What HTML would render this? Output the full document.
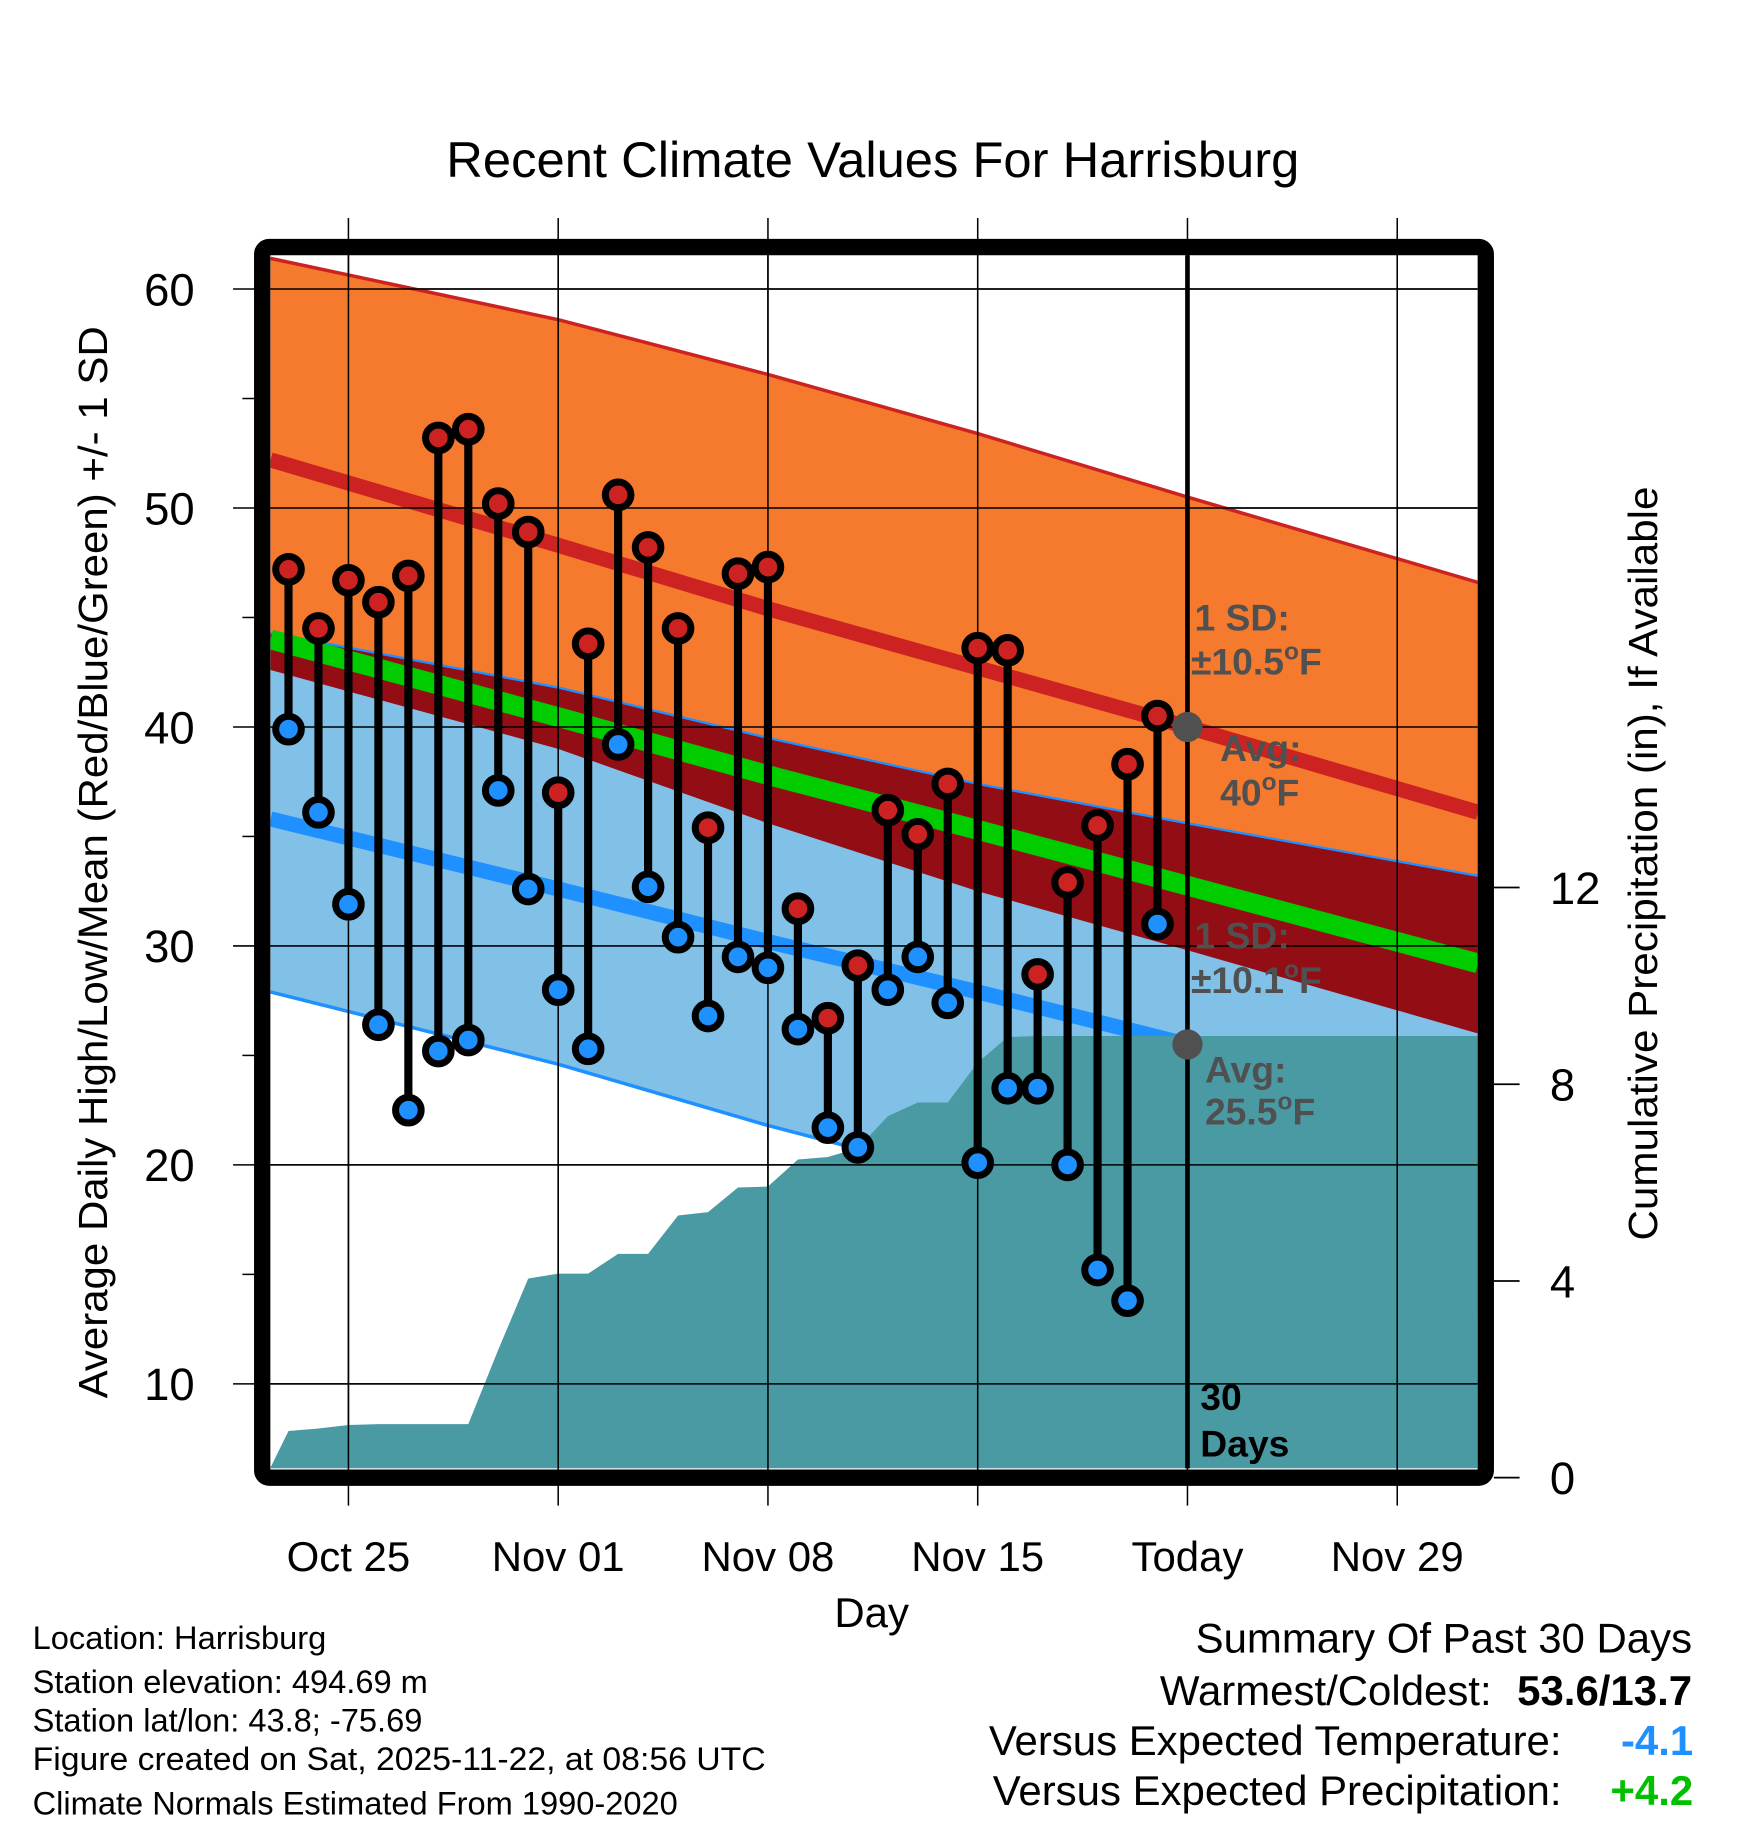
<!DOCTYPE html>
<html><head><meta charset="utf-8"><style>
html,body{margin:0;padding:0;background:#fff}
svg{display:block;font-family:"Liberation Sans",Arial,sans-serif}
</style></head><body>
<svg id="chart" width="1748" height="1828" viewBox="0 0 1500 1568.6" xmlns="http://www.w3.org/2000/svg">
<rect x="0" y="0" width="1500" height="1568.6" fill="#fff"/>
<text x="749" y="152" font-size="43" text-anchor="middle" textLength="732" lengthAdjust="spacingAndGlyphs">Recent Climate Values For Harrisburg</text>
<g id="grid"></g>
<g id="plot"></g>
<g id="axes"></g>
<text transform="translate(92,740) rotate(-90)" font-size="35" text-anchor="middle" textLength="920" lengthAdjust="spacingAndGlyphs">Average Daily High/Low/Mean (Red/Blue/Green) +/- 1 SD</text>
<text transform="translate(1422,741) rotate(-90)" font-size="35" text-anchor="middle" textLength="647" lengthAdjust="spacingAndGlyphs">Cumulative Precipitation (in), If Available</text>
<text x="748" y="1396" font-size="36" text-anchor="middle">Day</text>
<g font-size="28">
<text x="28" y="1415">Location: Harrisburg</text>
<text x="28" y="1453">Station elevation: 494.69 m</text>
<text x="28" y="1486">Station lat/lon: 43.8; -75.69</text>
<text x="28" y="1519" textLength="629" lengthAdjust="spacingAndGlyphs">Figure created on Sat, 2025-11-22, at 08:56 UTC</text>
<text x="28" y="1557">Climate Normals Estimated From 1990-2020</text>
</g>
<g font-size="36">
<text x="1452" y="1418" text-anchor="end">Summary Of Past 30 Days</text>
<text x="1280" y="1463" text-anchor="end">Warmest/Coldest:</text>
<text x="1452" y="1463" text-anchor="end" font-weight="bold">53.6/13.7</text>
<text x="1340" y="1506" text-anchor="end">Versus Expected Temperature:</text>
<text x="1453" y="1506" text-anchor="end" font-weight="bold" fill="#1e90ff">-4.1</text>
<text x="1340" y="1549" text-anchor="end">Versus Expected Precipitation:</text>
<text x="1453" y="1549" text-anchor="end" font-weight="bold" fill="#00c000">+4.2</text>
</g>
</svg>
<script>
// ---- data ----
const dayLabels = ["Oct 23","Oct 24","Oct 25","Oct 26","Oct 27","Oct 28","Oct 29","Oct 30","Oct 31","Nov 01","Nov 02","Nov 03","Nov 04","Nov 05","Nov 06","Nov 07","Nov 08","Nov 09","Nov 10","Nov 11","Nov 12","Nov 13","Nov 14","Nov 15","Nov 16","Nov 17","Nov 18","Nov 19","Nov 20","Nov 21"];
const highs = [47.2,44.5,46.7,45.7,46.9,53.2,53.6,50.2,48.9,37.0,43.8,50.6,48.2,44.5,35.4,47.0,47.3,31.7,26.7,29.1,36.2,35.1,37.4,43.6,43.5,28.7,32.9,35.5,38.3,40.5];
const lows  = [39.9,36.1,31.9,26.4,22.5,25.2,25.7,37.1,32.6,28.0,25.3,39.2,32.7,30.4,26.8,29.5,29.0,26.2,21.7,20.8,28.0,29.5,27.4,20.1,23.5,23.5,20.0,15.2,13.8,31.0];
const precip = [0.95,1.0,1.07,1.09,1.09,1.09,1.09,2.6,4.05,4.15,4.15,4.55,4.55,5.33,5.4,5.9,5.92,6.47,6.52,6.7,7.35,7.63,7.63,8.44,8.96,8.98,8.98,8.98,8.98,8.98];
const normDays = [-2.6,7,14,21,28,37.7];
const highUpper = [61.4,58.6,56.1,53.4,50.5,46.6];
const highMean  = [52.2,48.3,45.4,42.7,40.0,36.1];
const highLower = [42.6,39.0,35.6,32.5,29.8,26.0];
const lowUpper  = [44.3,41.8,39.5,37.4,35.6,33.2];
const lowMean   = [35.8,32.6,30.2,27.9,25.5,22.3];
const lowLower  = [27.9,24.6,21.8,19.3,16.7,13.3];
const yTicks = [10,20,30,40,50,60];
const y2Ticks = [0,4,8,12];
const xTickDays = [0,7,14,21,28,35];
const xTickLabels = ["Oct 25","Nov 01","Nov 08","Nov 15","Today","Nov 29"];
const firstDay = -2;
const todayDay = 28;

// ---- scales ----
const L=232,R=1268,T=219,B=1260;
const xs = d => 299 + d*25.714;
const ys = t => 248 + (60-t)*18.79;
const yp = p => 1268 - p*42.2;
const NS="http://www.w3.org/2000/svg";
function mk(tag, attrs, parent){const e=document.createElementNS(NS,tag);for(const k in attrs)e.setAttribute(k,attrs[k]);parent.appendChild(e);return e;}
const grid=document.getElementById('grid'), plot=document.getElementById('plot'), axes=document.getElementById('axes');

const defs=mk('defs',{},plot);
const cp=mk('clipPath',{id:'pc'},defs); mk('rect',{x:L,y:T,width:R-L,height:B-T},cp);
const g=mk('g',{'clip-path':'url(#pc)'},plot);

function line(arr){return normDays.map((d,i)=>xs(d)+','+ys(arr[i])).join(' ');}
function band(up,lo){return normDays.map((d,i)=>xs(d)+','+ys(up[i])).concat(normDays.slice().reverse().map((d,j)=>{const i=normDays.length-1-j;return xs(d)+','+ys(lo[i]);})).join(' ');}
const meanArr = highMean.map((h,i)=>(h+lowMean[i])/2);
const overlapTop = lowUpper.map((v,i)=>Math.min(v,highUpper[i]));

let e;
e=mk('polygon',{points:band(highUpper,highLower),fill:'#f57a2e'},g);


e=mk('polygon',{points:band(lowUpper,lowLower),fill:'#82c1e7'},g);


e=mk('polygon',{points:band(overlapTop,highLower),fill:'#930d15'},g);


e=mk('polyline',{points:line(lowUpper),fill:'none',stroke:'#1e90ff','stroke-width':2},g);


e=mk('polyline',{points:line(lowLower),fill:'none',stroke:'#1e90ff','stroke-width':3},g);


e=mk('polyline',{points:line(highUpper),fill:'none',stroke:'#cc2222','stroke-width':3},g);


e=mk('polyline',{points:line(meanArr),fill:'none',stroke:'#00cc00','stroke-width':17},g);


e=mk('polyline',{points:line(highMean),fill:'none',stroke:'#cc2222','stroke-width':13},g);


e=mk('polyline',{points:line(lowMean),fill:'none',stroke:'#1e90ff','stroke-width':13},g);



let pts=[L+','+B, L+','+yp(0.2)];
precip.forEach((p,i)=>pts.push(xs(firstDay+i)+','+yp(p)));
pts.push(R+','+yp(precip[precip.length-1]), R+','+B);
e=mk('polygon',{points:pts.join(' '),fill:'#4a9aa3'},g);



yTicks.forEach(t=>{
 e=mk('line',{x1:200,x2:R,y1:ys(t),y2:ys(t),stroke:'#000','stroke-width':1.3},grid);
 
 
});
[15,25,35,45,55].forEach(t=>mk('line',{x1:208,x2:220,y1:ys(t),y2:ys(t),stroke:'#000','stroke-width':1.3},grid));
xTickDays.forEach(d=>{
 e=mk('line',{x1:xs(d),x2:xs(d),y1:187,y2:1292,stroke:'#000','stroke-width':1.3},grid);
 
 
});
const g2=mk('g',{'clip-path':'url(#pc)'},plot);
yTicks.forEach(t=>mk('line',{x1:L,x2:R,y1:ys(t),y2:ys(t),stroke:'#000','stroke-width':1.3},g2));
xTickDays.forEach(d=>mk('line',{x1:xs(d),x2:xs(d),y1:T,y2:B,stroke:'#000','stroke-width':1.3},g2));

e=mk('line',{x1:xs(todayDay),x2:xs(todayDay),y1:T,y2:B,stroke:'#000','stroke-width':4},plot);



highs.forEach((h,i)=>{
 const x=xs(firstDay+i);
 e=mk('line',{x1:x,x2:x,y1:ys(h),y2:ys(lows[i]),stroke:'#000','stroke-width':7},plot);
 
 
});
highs.forEach((h,i)=>{
 const x=xs(firstDay+i);
 e=mk('circle',{cx:x,cy:ys(lows[i]),r:11,fill:'#1e90ff',stroke:'#000','stroke-width':6},plot);
 
 
 e=mk('circle',{cx:x,cy:ys(h),r:11,fill:'#cc2222',stroke:'#000','stroke-width':6},plot);
 
 
});

e=mk('circle',{cx:xs(todayDay),cy:ys(highMean[4]),r:13,fill:'#505050'},plot);


e=mk('circle',{cx:xs(todayDay),cy:ys(lowMean[4]),r:13,fill:'#505050'},plot);



function txt(s,x,y,attrs,name){const t=mk('text',Object.assign({x:x,y:y},attrs),plot);t.textContent=s;return t;}
const ann={'font-size':32,'font-weight':'bold',fill:'#505050'};
txt('1 SD:',1025,541,ann,'high-sd-label');
const t1=txt('',1022,579,ann,'high-sd-value');t1.innerHTML='±10.5<tspan dy="-13" font-size="21">o</tspan><tspan dy="13">F</tspan>';
txt('Avg:',1047,653,ann,'high-avg-label');
const t2=txt('',1047,691,ann,'high-avg-value');t2.innerHTML='40<tspan dy="-13" font-size="21">o</tspan><tspan dy="13">F</tspan>';
txt('1 SD:',1025,814,ann,'low-sd-label');
const t3=txt('',1022,852,ann,'low-sd-value');t3.innerHTML='±10.1<tspan dy="-13" font-size="21">o</tspan><tspan dy="13">F</tspan>';
txt('Avg:',1034,929,ann,'low-avg-label');
const t4=txt('',1034,965,ann,'low-avg-value');t4.innerHTML='25.5<tspan dy="-13" font-size="21">o</tspan><tspan dy="13">F</tspan>';
const ann2={'font-size':32,'font-weight':'bold',fill:'#000'};
txt('30',1030,1210,ann2,'days-label-number');
txt('Days',1030,1250,ann2,'days-label-text');

e=mk('rect',{x:225,y:212,width:1050,height:1056,rx:6,fill:'none',stroke:'#000','stroke-width':14},axes);



yTicks.forEach(t=>{
 const tt=mk('text',{x:167,y:ys(t)+14,'font-size':39,'text-anchor':'end'},axes);tt.textContent=t;
 
 
});
y2Ticks.forEach(p=>{
 mk('line',{x1:1282,x2:1304,y1:yp(p),y2:yp(p),stroke:'#000','stroke-width':1.5},axes);
 const tt=mk('text',{x:1330,y:yp(p)+14,'font-size':39},axes);tt.textContent=p;
 
 
});
xTickDays.forEach((d,i)=>{
 const tt=mk('text',{x:xs(d),y:1348,'font-size':36,'text-anchor':'middle'},axes);tt.textContent=xTickLabels[i];
 
 
});
</script>
</body></html>
